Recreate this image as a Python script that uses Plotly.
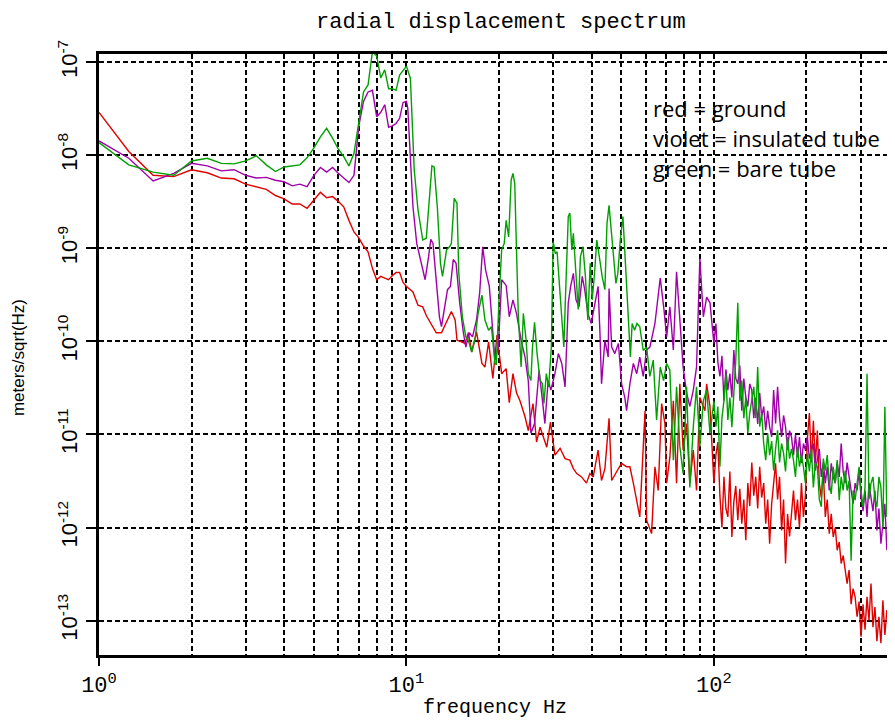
import plotly.graph_objects as go

# ---------------- data ----------------
# below ~100 Hz each curve has its own read-off frequencies
red_f = [1.0, 1.25, 1.5, 1.75, 2.0, 2.25, 2.5, 2.75, 3.0, 3.25,
         3.5, 3.75, 4.0, 4.25, 4.5, 4.75, 5.0, 5.25, 5.5, 5.75,
         6.0, 6.25, 6.5, 6.75, 7.0, 7.25, 7.5, 7.75, 8.0, 8.25,
         8.5, 8.75, 9.0, 9.25, 9.5, 9.75, 10.0, 10.5, 10.9, 11.3,
         11.6, 12.1, 12.5, 13.0, 13.5, 14.0, 14.4, 14.6, 15.1, 15.5,
         15.9, 16.3, 16.9, 17.6, 18.0, 18.5, 19.1, 19.7, 20.4, 21.1,
         21.6, 22.2, 22.8, 23.4, 24.3, 24.9, 25.8, 26.5, 27.2, 28.6,
         29.4, 30.4, 31.6, 32.8, 34.0, 34.9, 35.8, 37.1, 38.5, 39.5,
         40.5, 42.0, 43.1, 44.2, 45.6, 46.5, 48.3, 50.1, 52.0, 53.3,
         54.7, 56.1, 57.4, 59.7, 60.4, 62.7, 64.3, 65.9, 67.6, 69.3,
         70.2, 71.9, 73.8, 75.6, 77.5, 79.4, 81.5, 83.5, 85.7, 87.8,
         90.0, 93.5, 94.7, 97.1, 99.5]
red_v = [2.9e-8, 1.1e-8, 6.1e-9, 5.9e-9, 7.0e-9, 6.5e-9, 5.7e-9, 5.6e-9, 4.9e-9, 4.6e-9,
         4.3e-9, 3.7e-9, 3.4e-9, 3.0e-9, 3.0e-9, 2.7e-9, 3.3e-9, 4.0e-9, 3.5e-9, 3.6e-9,
         3.2e-9, 2.8e-9, 2.0e-9, 1.5e-9, 1.3e-9, 1.06e-9, 9.2e-10, 6.1e-10, 4.6e-10, 5.0e-10,
         4.8e-10, 4.6e-10, 5.1e-10, 5.5e-10, 5.5e-10, 4.3e-10, 3.9e-10, 3.4e-10, 2.45e-10, 2.35e-10,
         1.9e-10, 1.5e-10, 1.24e-10, 1.24e-10, 1.6e-10, 2.1e-10, 1.7e-10, 1.03e-10, 9.9e-11, 9.5e-11,
         1.24e-10, 7.7e-11, 1.27e-10, 5.8e-11, 5.3e-11, 9.9e-11, 4.0e-11, 1.17e-10, 4.5e-11, 5.1e-11,
         2.2e-11, 4.5e-11, 2.8e-11, 2.3e-11, 1.55e-11, 1.1e-11, 2.15e-11, 8.3e-12, 1.2e-11, 7.3e-12,
         1.36e-11, 6.0e-12, 7.1e-12, 5.5e-12, 5.3e-12, 4.3e-12, 3.8e-12, 3.5e-12, 3.0e-12, 3.8e-12,
         3.5e-12, 6.8e-12, 3.2e-12, 4.3e-12, 1.49e-11, 3.2e-12, 4.0e-12, 4.9e-12, 4.5e-12, 4.5e-12,
         3.0e-12, 2.0e-12, 1.3e-12, 1.8e-11, 1.2e-12, 8.6e-13, 4.5e-12, 2.5e-12, 2.15e-11, 1.31e-11,
         3.0e-12, 5.7e-12, 2.3e-11, 3.0e-12, 3.5e-11, 6.8e-12, 1.31e-11, 3.0e-12, 6.8e-12, 2.5e-12,
         2.5e-11, 1.8e-11, 3.5e-11, 2.0e-11, 4.5e-12]

violet_f = [1.0, 1.25, 1.5, 1.75, 2.0, 2.25, 2.5, 2.75, 3.0, 3.25,
            3.5, 3.75, 4.0, 4.25, 4.5, 4.75, 5.0, 5.25, 5.5, 5.75,
            6.0, 6.25, 6.5, 6.75, 7.0, 7.25, 7.5, 7.75, 8.0, 8.25,
            8.5, 8.75, 9.0, 9.25, 9.5, 9.75, 10.0, 10.1, 10.5, 10.8,
            11.1, 11.5, 11.8, 12.0, 12.2, 12.5, 12.8, 13.0, 13.4, 13.6,
            13.9, 14.2, 14.5, 14.9, 15.3, 15.6, 16.0, 16.4, 16.9, 17.3,
            17.7, 18.1, 18.6, 18.9, 19.4, 19.9, 20.4, 21.1, 21.6, 22.2,
            22.8, 23.6, 24.3, 24.9, 25.4, 26.1, 27.0, 27.7, 28.2, 28.9,
            29.5, 30.4, 31.2, 32.0, 32.8, 33.6, 34.2, 34.9, 35.6, 36.4,
            37.3, 38.0, 38.9, 39.9, 41.0, 42.0, 42.6, 43.1, 44.2, 45.3,
            45.6, 46.5, 47.6, 48.9, 50.1, 51.3, 52.0, 53.3, 54.7, 56.1,
            57.4, 58.9, 60.4, 61.9, 64.3, 66.9, 68.8, 70.2, 71.9, 73.8,
            75.6, 77.5, 79.4, 81.5, 83.5, 85.7, 87.8, 90.0, 92.4, 94.7,
            97.1]
violet_v = [1.43e-8, 9.3e-9, 5.3e-9, 6.4e-9, 8.2e-9, 7.7e-9, 6.8e-9, 7.0e-9, 6.1e-9, 5.7e-9,
            5.8e-9, 5.4e-9, 5.2e-9, 4.7e-9, 4.9e-9, 4.6e-9, 6.1e-9, 7.4e-9, 6.6e-9, 7.4e-9,
            6.4e-9, 5.7e-9, 5.1e-9, 6.1e-9, 2.07e-8, 3.8e-8, 4.8e-8, 5.0e-8, 2.6e-8, 2.9e-8,
            3.5e-8, 2.0e-8, 2.07e-8, 2.2e-8, 2.5e-8, 3.7e-8, 3.8e-8, 3.2e-8, 2.8e-9, 1.13e-9,
            7.5e-10, 4.6e-10, 8.1e-10, 1.25e-9, 1.13e-9, 4.2e-10, 1.84e-10, 1.44e-10, 2.8e-10, 3.6e-10,
            3.9e-10, 7.6e-10, 6.9e-10, 2.6e-10, 1.27e-10, 8.7e-11, 1.24e-10, 1.12e-10, 1.7e-10, 3.3e-10,
            1.04e-9, 5.8e-10, 3.9e-10, 1.84e-10, 6.3e-11, 8.7e-11, 4.6e-10, 4.0e-10, 1.84e-10, 2.8e-10,
            2.0e-10, 1.03e-10, 6.8e-11, 3.8e-11, 1.03e-11, 1.31e-11, 4.9e-11, 2.3e-11, 1.31e-11, 3.8e-11,
            3.0e-11, 4.5e-11, 7.4e-11, 5.8e-11, 3.25e-11, 2.6e-10, 3.9e-10, 5.4e-10, 2.8e-10, 2.35e-10,
            5.0e-10, 3.6e-10, 2.0e-10, 1.56e-10, 2.6e-10, 3.9e-10, 1.22e-10, 3.5e-11, 1.03e-10, 6.8e-11,
            3.7e-10, 8.7e-11, 7.4e-11, 9.5e-11, 3.5e-11, 2.5e-11, 1.8e-11, 3.5e-11, 5.8e-11, 4.5e-11,
            6.8e-11, 4.2e-11, 8.1e-11, 8.7e-11, 1.56e-10, 4.8e-10, 2.2e-10, 1.12e-10, 2.35e-10, 8.1e-11,
            5.6e-10, 1.84e-10, 5.3e-11, 2.8e-11, 2.0e-11, 3.0e-11, 5.3e-11, 7.8e-10, 1.84e-10, 3.0e-10,
            2.6e-10]

green_f = [1.0, 1.25, 1.5, 1.75, 2.0, 2.25, 2.5, 2.75, 3.0, 3.25,
           3.5, 3.75, 4.0, 4.25, 4.5, 4.75, 5.0, 5.25, 5.5, 5.75,
           6.0, 6.25, 6.5, 6.75, 7.0, 7.25, 7.5, 7.75, 8.0, 8.25,
           8.5, 8.75, 9.0, 9.25, 9.5, 9.75, 10.0, 10.3, 10.6, 10.9,
           11.3, 11.6, 11.9, 12.1, 12.3, 12.6, 12.9, 13.1, 13.5, 13.8,
           14.0, 14.3, 14.6, 14.8, 15.2, 15.6, 15.9, 16.3, 16.7, 17.1,
           17.6, 18.0, 18.5, 18.9, 19.4, 19.6, 20.0, 20.4, 20.8, 21.1,
           21.5, 21.9, 22.2, 22.5, 22.8, 23.1, 23.6, 24.0, 24.5, 24.9,
           25.4, 25.7, 26.1, 26.6, 27.2, 27.7, 28.0, 28.5, 29.0, 29.6,
           30.0, 30.5, 30.9, 31.5, 32.2, 32.5, 32.9, 33.6, 34.0, 34.5,
           34.9, 35.6, 36.2, 36.8, 37.5, 38.2, 38.9, 39.6, 40.2, 40.9,
           41.6, 42.4, 43.3, 44.2, 44.9, 45.6, 46.2, 47.0, 48.0, 48.7,
           49.6, 50.6, 51.6, 52.5, 53.5, 54.2, 55.2, 56.2, 57.4, 58.9,
           60.4, 61.9, 63.5, 65.1, 66.9, 68.6, 70.2, 71.9, 73.8, 75.6,
           77.5, 79.4, 81.5, 83.5, 85.7, 87.8, 90.0, 92.4, 94.7, 97.1]
green_v = [1.37e-8, 7.9e-9, 6.6e-9, 6.1e-9, 8.7e-9, 9.3e-9, 8.2e-9, 8.1e-9, 8.7e-9, 9.9e-9,
           7.9e-9, 6.7e-9, 7.5e-9, 7.7e-9, 7.9e-9, 9.4e-9, 1.2e-8, 1.58e-8, 1.95e-8, 1.53e-8,
           1.17e-8, 9.7e-9, 7.7e-9, 1.05e-8, 2.4e-8, 4.8e-8, 5.7e-8, 1.3e-7, 1.17e-7, 6.8e-8,
           8.3e-8, 5.2e-8, 5.2e-8, 5.0e-8, 7.3e-8, 8.3e-8, 9.1e-8, 6.7e-8, 6.95e-9, 2.6e-9,
           1.23e-9, 1.28e-9, 4.2e-9, 7.7e-9, 7.5e-9, 2.8e-9, 6.9e-10, 5.0e-10, 9.6e-10, 1.04e-9,
           1.13e-9, 3.45e-9, 3.05e-9, 5.4e-10, 1.84e-10, 1.12e-10, 1.03e-10, 7.7e-11, 1.03e-10, 2.0e-10,
           3.15e-10, 1.7e-10, 1.32e-10, 1.44e-10, 5.8e-11, 5.6e-11, 2.8e-10, 9.6e-10, 1.13e-9, 2.0e-9,
           1.33e-9, 5.4e-9, 6.4e-9, 5.0e-9, 9.6e-10, 2.0e-10, 5.3e-11, 2.0e-10, 1.03e-10, 4.5e-11,
           3.8e-11, 8.7e-11, 1.6e-10, 7.4e-11, 3.8e-11, 3.5e-11, 2.15e-11, 4.5e-11, 3.25e-11, 8.7e-11,
           1.18e-9, 8.8e-10, 9.2e-10, 3.9e-10, 1.56e-10, 8.7e-11, 3.0e-10, 2.2e-9, 2.4e-9, 9.6e-10,
           1.45e-9, 5.0e-10, 2.2e-10, 8.1e-10, 1.04e-9, 5.0e-10, 1.7e-10, 6.9e-10, 2.8e-10, 5.4e-10,
           1.23e-9, 8.1e-10, 5.0e-10, 3.6e-10, 1.86e-9, 2.9e-9, 1.7e-9, 8.1e-10, 4.2e-10, 5.4e-10,
           1.23e-9, 2.2e-9, 5.8e-10, 2.35e-10, 6.8e-11, 1.56e-10, 1.32e-10, 1.56e-10, 1.44e-10, 8.0e-11,
           8.7e-11, 4.2e-11, 6.3e-11, 1.43e-11, 5.3e-11, 3.8e-11, 5.8e-11, 4.9e-11, 5.3e-12, 3.25e-11,
           7.4e-12, 3.8e-12, 3.25e-11, 2.7e-12, 1.21e-11, 3.25e-11, 7.4e-12, 2.3e-11, 3.0e-11, 1.03e-11]

# above 100 Hz the three curves are read on one shared frequency list
hf_f = [100, 101.5, 103, 104.6, 106.2, 107.8, 109.4, 111, 112.7, 114.4,
        116.1, 117.8, 119.6, 121.4, 123.2, 125.1, 127, 128.9, 130.8, 132.8,
        134.8, 136.8, 138.8, 140.9, 143, 145.2, 147.4, 149.6, 151.8, 154.1,
        156.4, 158.7, 161.1, 163.5, 166, 168.5, 171, 173.6, 176.2, 178.8,
        181.5, 184.2, 187, 189.8, 192.6, 195.5, 198.4, 201.4, 204.4, 207.5,
        210.6, 213.8, 217, 220.2, 223.5, 226.9, 230.3, 233.7, 237.2, 240.8,
        244.4, 248.1, 251.8, 255.6, 259.4, 263.3, 267.2, 271.2, 275.3, 279.4,
        283.6, 287.9, 292.2, 296.6, 301, 305.5, 310.1, 314.8, 319.5, 324.3,
        329.1, 334, 339, 344.1, 349.3, 354.5, 359.8, 365.2, 370.7, 376.3,
        381.9, 387.6]
red_hf_v = [3.0e-12, 6.0e-12, 8.3e-12, 2.2e-12, 1.0e-12, 3.5e-12, 1.6e-12, 1.3e-12, 4.0e-12, 7.9e-13,
            1.9e-12, 2.8e-12, 1.2e-12, 2.6e-12, 1.1e-12, 2.0e-12, 7.3e-13, 3.0e-12, 1.7e-12, 5.0e-12,
            2.2e-12, 3.5e-12, 1.6e-12, 4.5e-12, 2.1e-12, 3.0e-12, 1.1e-12, 2.0e-12, 6.7e-13, 1.8e-12,
            3.2e-12, 4.9e-12, 2.0e-12, 3.5e-12, 9.3e-13, 2.0e-12, 4.1e-13, 1.4e-12, 8.0e-13, 1.5e-12,
            2.5e-12, 1.2e-12, 2.0e-12, 1.0e-12, 3.0e-12, 1.3e-12, 2.2e-12, 9.0e-12, 1.7e-11, 5.0e-12,
            1.4e-11, 4.9e-12, 1.1e-11, 3.0e-12, 2.1e-12, 4.0e-12, 1.3e-12, 2.0e-12, 8.6e-13, 1.4e-12,
            7.9e-13, 1.0e-12, 5.7e-13, 7.0e-13, 4.1e-13, 5.0e-13, 3.5e-13, 2.5e-13, 3.5e-13, 1.5e-13,
            2.2e-13, 1.8e-13, 1.1e-13, 1.6e-13, 6.7e-14, 1.5e-13, 8.0e-14, 1.8e-13, 1.0e-13, 2.5e-13,
            8.5e-14, 1.4e-13, 6.0e-14, 1.1e-13, 5.7e-14, 1.65e-13, 7.0e-14, 1.3e-13, 9.3e-14, 1.5e-13,
            6.0e-14, 1.1e-13]
violet_hf_v = [9.5e-11, 1.56e-10, 6.0e-11, 4.2e-11, 7.0e-11, 2.3e-11, 5.0e-11, 3.0e-11, 4.5e-11, 2.5e-11,
               8.1e-11, 4.0e-11, 3.5e-11, 5.5e-11, 1.8e-11, 4.0e-11, 2.5e-11, 2.0e-11, 3.5e-11, 3.0e-11,
               1.5e-11, 2.5e-11, 1.3e-11, 2.8e-11, 1.55e-11, 2.0e-11, 1.11e-11, 1.8e-11, 1.2e-11, 9.4e-12,
               3.0e-11, 1.31e-11, 3.25e-11, 1.5e-11, 9.4e-12, 1.6e-11, 1.21e-11, 6.8e-12, 1.1e-11, 9.4e-12,
               6.0e-12, 1.0e-11, 5.7e-12, 9.4e-12, 4.9e-12, 8.0e-12, 6.8e-12, 9.4e-12, 5.5e-12, 6.8e-12,
               8.0e-12, 4.1e-12, 5.7e-12, 7.0e-12, 3.5e-12, 5.0e-12, 3.0e-12, 4.5e-12, 2.5e-12, 4.9e-12,
               3.5e-12, 3.0e-12, 5.0e-12, 3.5e-12, 8.0e-12, 4.0e-12, 3.0e-12, 5.0e-12, 3.5e-12, 2.5e-12,
               1.8e-12, 3.0e-12, 2.5e-12, 4.0e-12, 2.1e-12, 1.5e-12, 2.5e-12, 1.3e-12, 3.0e-12, 2.1e-12,
               1.5e-12, 2.5e-12, 9.3e-13, 1.6e-12, 6.7e-13, 1.1e-12, 1.8e-12, 5.7e-13, 9.0e-13, 3.5e-13,
               6.7e-13, 3.0e-12]
green_hf_v = [2.3e-11, 1.21e-11, 2.0e-11, 4.5e-12, 1.5e-11, 2.3e-11, 4.5e-11, 1.43e-11, 2.5e-11, 1.2e-11,
              3.25e-11, 6.3e-11, 2.6e-10, 2.3e-11, 3.8e-11, 1.5e-11, 2.5e-11, 1.03e-11, 1.7e-11, 2.5e-11,
              3.25e-11, 1.5e-11, 5.3e-11, 1.21e-11, 1.7e-11, 8.0e-12, 5.3e-12, 1.03e-11, 6.0e-12, 8.5e-12,
              4.1e-12, 7.0e-12, 1.11e-11, 5.0e-12, 8.0e-12, 6.25e-12, 4.0e-12, 9.4e-12, 5.5e-12, 7.0e-12,
              5.3e-12, 3.5e-12, 7.4e-12, 4.5e-12, 6.0e-12, 4.5e-12, 3.0e-12, 6.25e-12, 4.0e-12, 7.0e-12,
              2.7e-12, 5.0e-12, 4.5e-12, 2.0e-12, 1.67e-12, 5.5e-12, 4.1e-12, 6.0e-12, 3.0e-12, 2.3e-12,
              4.5e-12, 3.0e-12, 5.3e-12, 1.97e-12, 3.5e-12, 2.5e-12, 4.1e-12, 2.5e-12, 3.2e-12, 4.4e-13,
              2.5e-12, 1.97e-12, 3.0e-12, 4.5e-12, 2.5e-12, 1.67e-12, 2.7e-12, 4.5e-11, 2.0e-12, 3.0e-12,
              3.5e-12, 2.0e-12, 1.67e-12, 3.5e-12, 2.7e-12, 1.0e-12, 1.98e-11, 1.3e-12, 3.0e-12, 2.3e-12,
              1.67e-12, 1.97e-12]

x_tick_vals = [1, 10, 100]
x_tick_text = ["10<sup>0</sup>", "10<sup>1</sup>", "10<sup>2</sup>"]
x_minor_vals = [2, 3, 4, 5, 6, 7, 8, 9, 20, 30, 40, 50, 60, 70, 80, 90, 200, 300]
y_tick_vals = [1e-7, 1e-8, 1e-9, 1e-10, 1e-11, 1e-12, 1e-13]
y_tick_text = ["10<sup>-7</sup>", "10<sup>-8</sup>", "10<sup>-9</sup>", "10<sup>-10</sup>",
               "10<sup>-11</sup>", "10<sup>-12</sup>", "10<sup>-13</sup>"]

legend_lines = ["red = ground", "violet = insulated tube", "green = bare tube"]

assert len(red_f) == len(red_v)
assert len(violet_f) == len(violet_v)
assert len(green_f) == len(green_v)
assert len(hf_f) == len(red_hf_v) == len(violet_hf_v) == len(green_hf_v)

# ---------------- figure ----------------
fig = go.Figure()
fig.add_trace(go.Scatter(x=red_f + hf_f, y=red_v + red_hf_v, mode="lines",
                         line=dict(color="#e00000", width=1.4), name="ground"))
fig.add_trace(go.Scatter(x=violet_f + hf_f, y=violet_v + violet_hf_v, mode="lines",
                         line=dict(color="#a000a8", width=1.4), name="insulated tube"))
fig.add_trace(go.Scatter(x=green_f + hf_f, y=green_v + green_hf_v, mode="lines",
                         line=dict(color="#00a000", width=1.4), name="bare tube"))

grid_common = dict(gridcolor="black", gridwidth=1.5, griddash="5px,3px")

fig.update_xaxes(type="log", range=[0, 2.589], automargin=False,
                 tickmode="array", tickvals=x_tick_vals, ticktext=x_tick_text,
                 ticks="outside", ticklen=8, tickwidth=1.5, tickcolor="black",
                 showline=True, linecolor="black", linewidth=2.5, mirror=True,
                 showgrid=True, **grid_common,
                 minor=dict(tickmode="array", tickvals=x_minor_vals, showgrid=True,
                            ticks="", **grid_common),
                 tickfont=dict(family="Liberation Mono, Courier New, monospace",
                               size=22, color="black"),
                 zeroline=False)
fig.update_yaxes(type="log", range=[-13.37, -6.911], automargin=False,
                 tickmode="array", tickvals=y_tick_vals, ticktext=y_tick_text,
                 tickangle=-90,
                 ticks="outside", ticklen=10, tickwidth=1.5, tickcolor="black",
                 showline=True, linecolor="black", linewidth=2.5, mirror=False,
                 showgrid=True, **grid_common,
                 tickfont=dict(family="Liberation Sans, Arial, sans-serif",
                               size=22, color="black"),
                 zeroline=False)

annotations = [
    dict(text="radial displacement spectrum", xref="paper", yref="paper",
         x=0.505, y=1.0, yshift=46, xanchor="center", yanchor="top", showarrow=False,
         font=dict(family="Liberation Mono, Courier New, monospace", size=22, color="black")),
    dict(text="frequency Hz", xref="paper", yref="paper",
         x=0.497, y=0.0, yshift=-52, xanchor="center", yanchor="middle", showarrow=False,
         font=dict(family="Liberation Mono, Courier New, monospace", size=20, color="black")),
    dict(text="meters/sqrt(Hz)", xref="paper", yref="paper",
         x=-0.1018, y=0.4956, xanchor="center", yanchor="middle", showarrow=False,
         textangle=-90,
         font=dict(family="Liberation Sans, Arial, sans-serif", size=17, color="black")),
]
for i, line in enumerate(legend_lines):
    annotations.append(dict(text=line, xref="paper", yref="paper",
                            x=0.6935, y=0.91 - i * 0.0497, xanchor="left", yanchor="middle",
                            showarrow=False,
                            font=dict(family="Open Sans, Liberation Sans, sans-serif",
                                      size=22, color="black")))

# the page body has an 8 px margin, so the figure is sized/offset to land
# the plot area where it sits in the reference window
fig.update_layout(width=887, height=713,
                  margin=dict(l=91, r=0, t=46, b=66, pad=0),
                  plot_bgcolor="white", paper_bgcolor="white",
                  showlegend=False, annotations=annotations)

fig.write_html("out.html")
